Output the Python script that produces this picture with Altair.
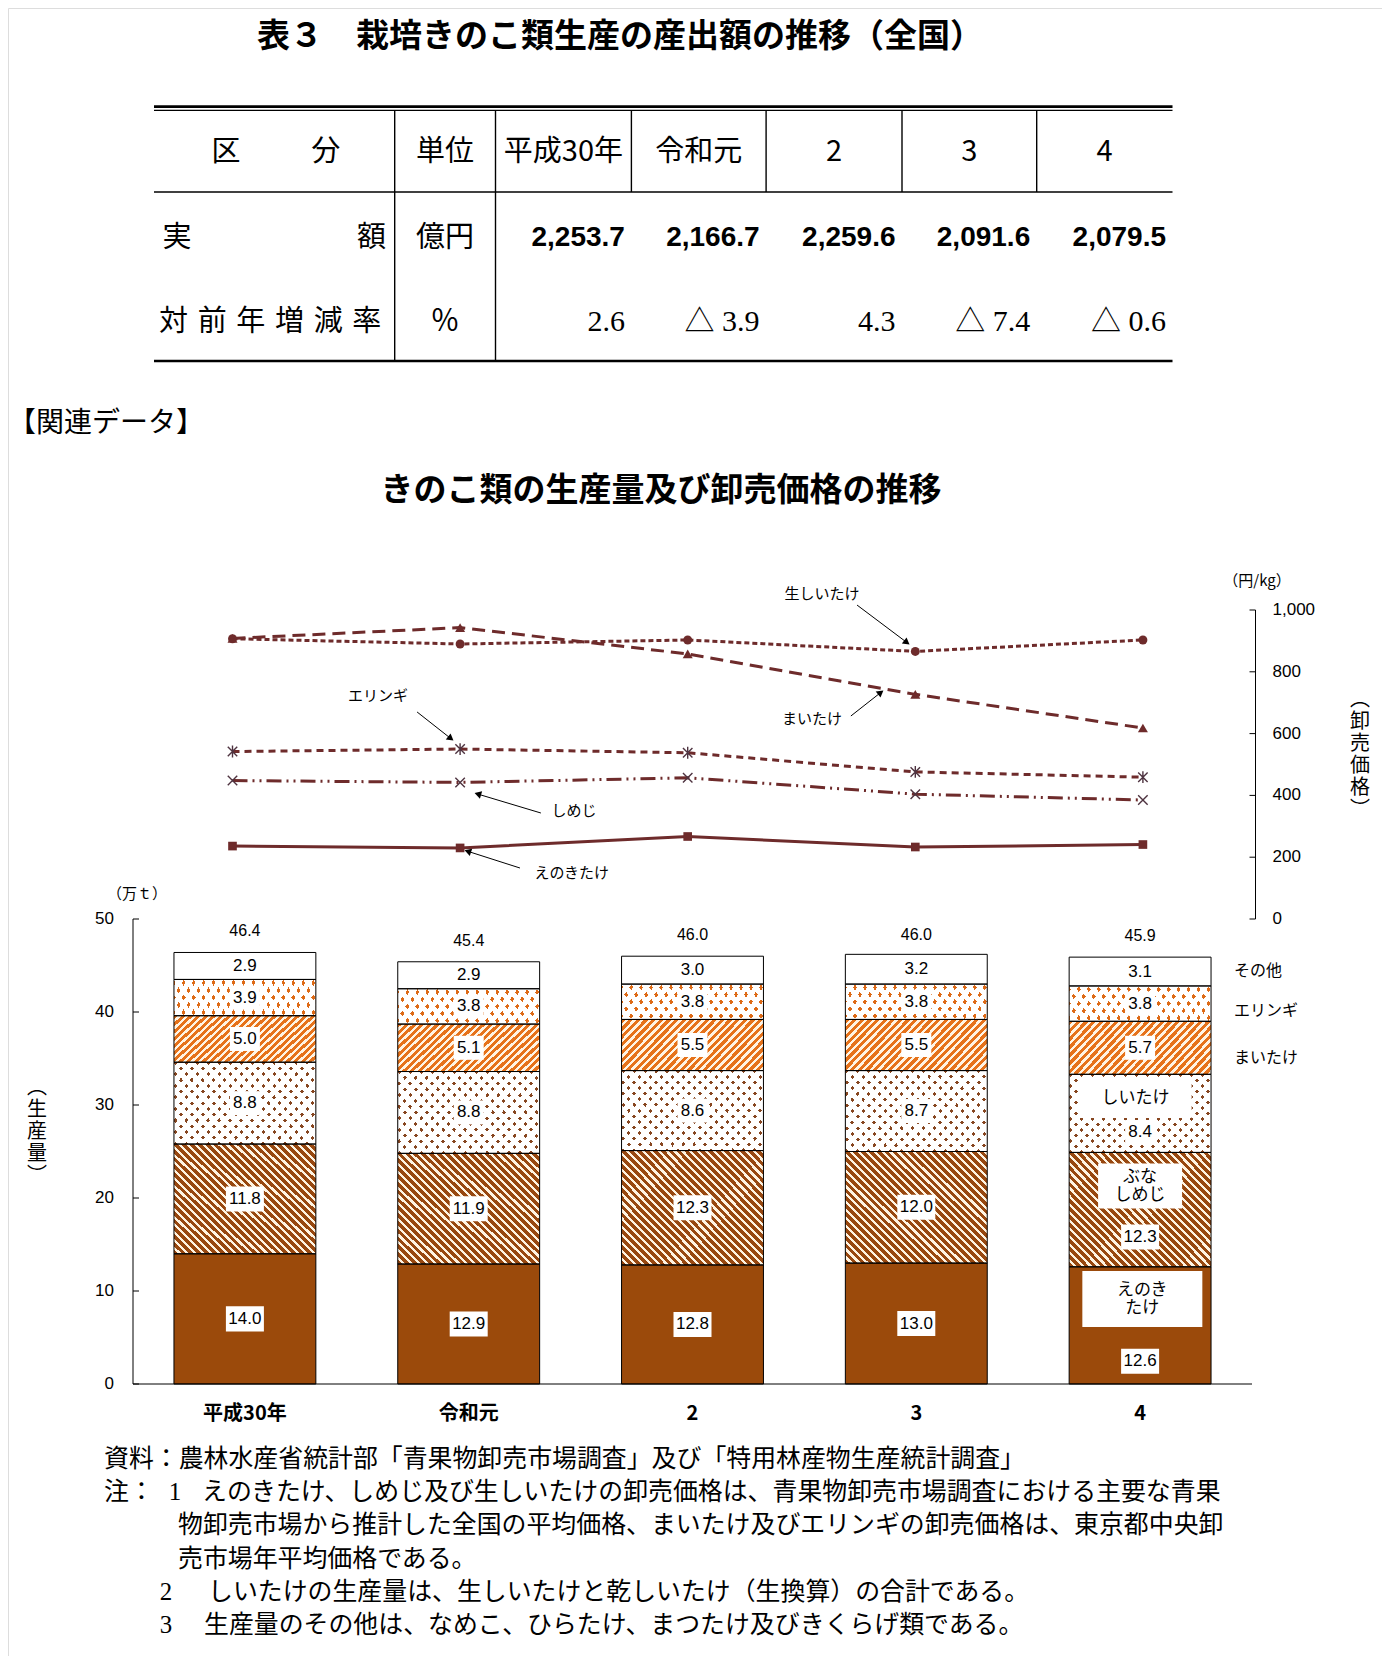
import math
import altair as alt
import pandas as pd

# ======================= data =======================
TABLE_TITLE = "表３　栽培きのこ類生産の産出額の推移（全国）"
TABLE_YEARS = ["平成30年", "令和元", "2", "3", "4"]
OUTPUT_VALUE = [2253.7, 2166.7, 2259.6, 2091.6, 2079.5]      # 億円
YOY_RATE = [2.6, -3.9, 4.3, -7.4, -0.6]                        # %

SECTION_LABEL = "【関連データ】"
CHART_TITLE = "きのこ類の生産量及び卸売価格の推移"
YEARS = ["平成30年", "令和元", "2", "3", "4"]

# production (万t), stacked bottom -> top
CATEGORIES = ["えのきたけ", "ぶなしめじ", "しいたけ", "まいたけ", "エリンギ", "その他"]
PROD_ENOKI = [14.0, 12.9, 12.8, 13.0, 12.6]
PROD_BUNASHIMEJI = [11.8, 11.9, 12.3, 12.0, 12.3]
PROD_SHIITAKE = [8.8, 8.8, 8.6, 8.7, 8.4]
PROD_MAITAKE = [5.0, 5.1, 5.5, 5.5, 5.7]
PROD_ERINGI = [3.9, 3.8, 3.8, 3.8, 3.8]
PROD_OTHER = [2.9, 2.9, 3.0, 3.2, 3.1]
PROD_TOTAL = [46.4, 45.4, 46.0, 46.0, 45.9]
PROD_TICKS = [0, 10, 20, 30, 40, 50]

# wholesale prices (円/kg)
PRICE_SERIES = ["生しいたけ", "まいたけ", "エリンギ", "しめじ", "えのきたけ"]
PRICE_NAMA_SHIITAKE = [907, 890, 903, 866, 903]
PRICE_MAITAKE = [908, 943, 858, 727, 618]
PRICE_ERINGI = [542, 550, 538, 476, 459]
PRICE_SHIMEJI = [448, 442, 457, 404, 385]
PRICE_ENOKI = [236, 230, 267, 233, 241]
PRICE_TICKS = [0, 200, 400, 600, 800, 1000]

SIDE_LABELS = ["その他", "エリンギ", "まいたけ"]
NAME_LABELS = ["しいたけ", "ぶな\nしめじ", "えのき\nたけ"]

NOTE_TEXTS = [
    "資料：農林水産省統計部「青果物卸売市場調査」及び「特用林産物生産統計調査」",
    "注：",
    "1",
    "えのきたけ、しめじ及び生しいたけの卸売価格は、青果物卸売市場調査における主要な青果",
    "物卸売市場から推計した全国の平均価格、まいたけ及びエリンギの卸売価格は、東京都中央卸",
    "売市場年平均価格である。",
    "2",
    "しいたけの生産量は、生しいたけと乾しいたけ（生換算）の合計である。",
    "3",
    "生産量のその他は、なめこ、ひらたけ、まつたけ及びきくらげ類である。",
]

# ======================= layout / style =======================
W, H = 1374, 1648
JP = "Noto Sans CJK JP"
LAT = "Liberation Sans"
SER = "Liberation Serif"

# page-coordinate scale (titles, table, notes)
PX = alt.Scale(domain=[8, 8 + W], range=[0, W], nice=False, zero=False)
PY = alt.Scale(domain=[8, 8 + H], range=[0, H], nice=False, zero=False)

# bar chart scales
XB_RANGE = [125, 1244]
YB_RANGE = [1376, 911]
XB = alt.Scale(domain=[-0.5, 4.5], range=XB_RANGE, nice=False, zero=False)
YB = alt.Scale(domain=[0, 50], range=YB_RANGE, nice=False, zero=False)
PX_PER_I_B = (XB_RANGE[1] - XB_RANGE[0]) / 5.0
PX_PER_UNIT_B = (YB_RANGE[0] - YB_RANGE[1]) / 50.0

# line chart scales
XL_RANGE = [224.5, 1134.9]
YL_RANGE = [911, 602]
XL = alt.Scale(domain=[0, 4], range=XL_RANGE, nice=False, zero=False)
YL = alt.Scale(domain=[0, 1000], range=YL_RANGE, nice=False, zero=False)
PX_PER_I_L = (XL_RANGE[1] - XL_RANGE[0]) / 4.0
PX_PER_YEN = (YL_RANGE[0] - YL_RANGE[1]) / 1000.0
RIGHT_AXIS_PLOT_X = 1247.5

LC = "#6E2B2B"
HALF = 0.317

# ---------- page layer ----------
COL_EDGES = [154, 394.7, 495.5, 631.4, 766.1, 902, 1036.7, 1172.5]
ROW_Y = [151.7, 237.7, 321.5]


def colmid(k):
    return (COL_EDGES[k] + COL_EDGES[k + 1]) / 2


items = []


def add(x, y, text, style):
    items.append(dict(x=x, y=y, text=text, style=style))


add(620, 37, TABLE_TITLE, "title")
add(226, ROW_Y[0], "区", "th")
add(325.7, ROW_Y[0], "分", "th")
add(colmid(1), ROW_Y[0], "単位", "th")
for k, yr in enumerate(TABLE_YEARS):
    add(colmid(k + 2), ROW_Y[0], yr, "th")
add(177, ROW_Y[1], "実", "th")
add(371.4, ROW_Y[1], "額", "th")
add(colmid(1), ROW_Y[1], "億円", "th")
for k, v in enumerate(OUTPUT_VALUE):
    add(COL_EDGES[k + 3] - 6.5, ROW_Y[1], f"{v:,.1f}", "val")
add(159, ROW_Y[2], "\u2004".join("対前年増減率"), "thl")
add(colmid(1), ROW_Y[2], "％", "th")
for k, r in enumerate(YOY_RATE):
    s = f"{r:.1f}" if r >= 0 else f"△ {abs(r):.1f}"
    add(COL_EDGES[k + 3] - 6.5, ROW_Y[2], s, "rate")

add(8, 424, SECTION_LABEL, "section")
add(661, 491, CHART_TITLE, "title")
add(1257, 581, "（円/kg）", "unit")
add(1360, 700, "︵\n卸\n売\n価\n格\n︶", "vert")
add(137, 894, "（万ｔ）", "unit")
add(37, 1088, "︵\n生\n産\n量\n︶", "vert")

NOTE_POS = [(104, 1460, "note"), (104, 1493, "note"), (175, 1493, "notenum"),
            (202, 1493, "note"), (178, 1526, "note"), (178, 1560, "note"),
            (166, 1593, "notenum"), (208, 1593, "note"), (166, 1626, "notenum"),
            (204, 1626, "note")]
for (nx_, ny_, st), txt in zip(NOTE_POS, NOTE_TEXTS):
    add(nx_, ny_, txt, st)

page_df = pd.DataFrame(items)

STYLES = {
    "title": dict(font=JP, fontSize=33, fontWeight="bold", align="center"),
    "section": dict(font=JP, fontSize=28, align="left"),
    "th": dict(font=JP, fontSize=29, align="center"),
    "thl": dict(font=JP, fontSize=29, align="left"),
    "val": dict(font=LAT, fontSize=28, fontWeight="bold", align="right"),
    "rate": dict(font=SER + ", " + JP, fontSize=30, align="right"),
    "unit": dict(font=JP, fontSize=15, align="center"),
    "vert": dict(font=JP, fontSize=20, align="center", lineBreak="\n", lineHeight=22),
    "note": dict(font=JP, fontSize=24.9, align="left"),
    "notenum": dict(font=SER, fontSize=24.9, align="center"),
}

page_layers = []
for st, kw in STYLES.items():
    page_layers.append(
        alt.Chart(page_df).transform_filter(alt.datum.style == st)
        .mark_text(baseline="middle", color="black", **kw)
        .encode(x=alt.X("x:Q", scale=PX, axis=None), y=alt.Y("y:Q", scale=PY, axis=None), text="text:N")
    )

TL, TR = COL_EDGES[0], COL_EDGES[-1]
tlines = [dict(x=TL, x2=TR, y=106.6, y2=106.6, w=2.6),
          dict(x=TL, x2=TR, y=110.4, y2=110.4, w=1.4),
          dict(x=TL, x2=TR, y=192, y2=192, w=1.5),
          dict(x=TL, x2=TR, y=361, y2=361, w=2.6)]
for xe in COL_EDGES[1:3]:
    tlines.append(dict(x=xe, x2=xe, y=110.4, y2=361, w=1.4))
for xe in COL_EDGES[3:7]:
    tlines.append(dict(x=xe, x2=xe, y=110.4, y2=192, w=1.4))
tlines_df = pd.DataFrame(tlines)
page_layers.insert(0, alt.Chart(tlines_df).mark_rule(color="black").encode(
    x=alt.X("x:Q", scale=PX, axis=None), x2="x2:Q",
    y=alt.Y("y:Q", scale=PY, axis=None), y2="y2:Q",
    strokeWidth=alt.StrokeWidth("w:Q", scale=None)))

page_layer = alt.layer(*page_layers)

# ---------- bar chart ----------
PROD_SERIES = [PROD_ENOKI, PROD_BUNASHIMEJI, PROD_SHIITAKE, PROD_MAITAKE, PROD_ERINGI, PROD_OTHER]
rows = []
for i in range(len(YEARS)):
    base = 0.0
    for cat, arr in zip(CATEGORIES, PROD_SERIES):
        v = arr[i]
        rows.append(dict(i=i, cat=cat, v=v, y0=round(base, 2), y1=round(base + v, 2)))
        base += v
prod = pd.DataFrame(rows)
prod["ly"] = (prod["y0"] + prod["y1"]) / 2
LAST_BAR_LABEL_SHIFT = {"えのきたけ": -3.85, "ぶなしめじ": -2.95, "しいたけ": -2.0}
for cat, sh in LAST_BAR_LABEL_SHIFT.items():
    m = (prod["i"] == 4) & (prod["cat"] == cat)
    prod.loc[m, "ly"] = prod.loc[m, "ly"] + sh


def stripe_fill(nx, ny, period, duty, c_on, c_off, w, h):
    nrm = math.hypot(nx, ny)
    nx, ny = nx / nrm, ny / nrm
    d0 = (nx * w, ny * h)
    corners = [(0.0, 0.0), (1.0, 0.0), (0.0, 1.0), (1.0, 1.0)]
    s = [u * d0[0] + v * d0[1] for u, v in corners]
    p1 = corners[s.index(min(s))]
    pm = corners[s.index(max(s))]
    du, dv = pm[0] - p1[0], pm[1] - p1[1]
    k = (du * d0[0] + dv * d0[1]) / (d0[0] ** 2 + d0[1] ** 2)
    x2, y2 = p1[0] + d0[0] * k, p1[1] + d0[1] * k
    L = abs(nx * w * du + ny * h * dv)
    n = L / period
    stops = []
    j = 0
    while j < n:
        a = j / n
        b = min((j + duty) / n, 1.0)
        c = min((j + 1) / n, 1.0)
        stops += [(a, c_on), (b, c_on), (b, c_off), (c, c_off)]
        j += 1
    return alt.LinearGradient(
        gradient="linear", x1=round(p1[0], 4), y1=round(p1[1], 4), x2=round(x2, 4), y2=round(y2, 4),
        stops=[alt.GradientStop(offset=round(o, 5), color=col) for o, col in stops])


BW = 2 * HALF * PX_PER_I_B
seg_h = {cat: sum(arr) / len(arr) * PX_PER_UNIT_B for cat, arr in zip(CATEGORIES, PROD_SERIES)}
CLEAR = "rgba(255,255,255,0)"
WHITE = "#FFFFFF"

FILLS = {
    "えのきたけ": ["#9B4A0B"],
    "ぶなしめじ": [stripe_fill(1, -1, 5.6, 0.6, "#984810", "#FFF4E2", BW, seg_h["ぶなしめじ"])],
    "しいたけ": ["#874620",
                 stripe_fill(5.7, -5.5, 7.9, 0.36, CLEAR, WHITE, BW, seg_h["しいたけ"]),
                 stripe_fill(5.7, 5.5, 7.9, 0.36, CLEAR, WHITE, BW, seg_h["しいたけ"])],
    "まいたけ": [stripe_fill(1, 1, 5.4, 0.56, "#E6721A", "#FFF4E4", BW, seg_h["まいたけ"])],
    "エリンギ": ["#DE6A16",
                 stripe_fill(7.2, -5, 8.2, 0.4, CLEAR, WHITE, BW, seg_h["エリンギ"]),
                 stripe_fill(7.2, 5, 8.2, 0.4, CLEAR, WHITE, BW, seg_h["エリンギ"])],
    "その他": [WHITE],
}


def seg_chart(cat=None):
    c = alt.Chart(prod)
    if cat is not None:
        c = c.transform_filter(alt.datum.cat == cat)
    return c.transform_calculate(xl=f"datum.i - {HALF}", xr=f"datum.i + {HALF}")


bar_layers = []
for cat in CATEGORIES:
    for f in FILLS[cat]:
        bar_layers.append(seg_chart(cat).mark_rect(fill=f).encode(
            x=alt.X("xl:Q", scale=XB, axis=None), x2="xr:Q",
            y=alt.Y("y0:Q", scale=YB, axis=None), y2="y1:Q"))

# segment outlines
bar_layers.append(seg_chart().mark_rect(fill="white", fillOpacity=0, stroke="black", strokeWidth=1).encode(
    x=alt.X("xl:Q", scale=XB, axis=None), x2="xr:Q",
    y=alt.Y("y0:Q", scale=YB, axis=None), y2="y1:Q"))

# axis lines (left: production, bottom: years)
axis_b = pd.DataFrame({"xa": [-0.5, -0.5], "xb": [-0.5, 4.5], "ya": [0, 0], "yb": [50, 0]})
bar_layers.append(alt.Chart(axis_b).mark_rule(color="black", strokeWidth=1).encode(
    x=alt.X("xa:Q", scale=XB, axis=None), x2="xb:Q",
    y=alt.Y("ya:Q", scale=YB, axis=None), y2="yb:Q"))

# inward ticks + labels of left axis
ptick_df = pd.DataFrame({"t": PROD_TICKS})
bar_layers.append(alt.Chart(ptick_df).transform_calculate(
    xa="-0.5", xb=f"-0.5 + {6 / PX_PER_I_B}").mark_rule(color="black", strokeWidth=1).encode(
    x=alt.X("xa:Q", scale=XB, axis=None), x2="xb:Q", y=alt.Y("t:Q", scale=YB, axis=None)))
bar_layers.append(alt.Chart(ptick_df).transform_calculate(xa="-0.5").mark_text(
    font=LAT, fontSize=17, color="black", align="right", baseline="middle", dx=-19).encode(
    x=alt.X("xa:Q", scale=XB, axis=None), y=alt.Y("t:Q", scale=YB, axis=None),
    text=alt.Text("t:Q", format="d")))

# year labels of bottom axis
year_df = pd.DataFrame({"i": list(range(len(YEARS))), "year": YEARS})
bar_layers.append(alt.Chart(year_df).transform_calculate(yz="0").mark_text(
    font=JP, fontSize=20, fontWeight="bold", color="black", baseline="middle", dy=30).encode(
    x=alt.X("i:Q", scale=XB, axis=None), y=alt.Y("yz:Q", scale=YB, axis=None), text="year:N"))

# white label boxes + value labels
WIDE_BOX = "M-1,-0.66L1,-0.66L1,0.66L-1,0.66Z"
NARROW_BOX = "M-1,-0.8L1,-0.8L1,0.8L-1,0.8Z"
bar_layers.append(alt.Chart(prod).transform_filter("datum.v >= 10").mark_point(
    shape=WIDE_BOX, size=38 * 38, filled=True, fill="white", opacity=1, strokeWidth=0).encode(
    x=alt.X("i:Q", scale=XB, axis=None), y=alt.Y("ly:Q", scale=YB, axis=None)))
bar_layers.append(alt.Chart(prod).transform_filter("datum.v < 10").mark_point(
    shape=NARROW_BOX, size=30 * 30, filled=True, fill="white", opacity=1, strokeWidth=0).encode(
    x=alt.X("i:Q", scale=XB, axis=None), y=alt.Y("ly:Q", scale=YB, axis=None)))
bar_layers.append(alt.Chart(prod).mark_text(font=LAT, fontSize=17, color="black", baseline="middle").encode(
    x=alt.X("i:Q", scale=XB, axis=None), y=alt.Y("ly:Q", scale=YB, axis=None),
    text=alt.Text("v:Q", format=".1f")))

# totals
tot_df = pd.DataFrame({"i": list(range(len(YEARS))), "total": PROD_TOTAL})
bar_layers.append(alt.Chart(tot_df).mark_text(font=LAT, fontSize=16, color="black", baseline="middle", dy=-21).encode(
    x=alt.X("i:Q", scale=XB, axis=None), y=alt.Y("total:Q", scale=YB, axis=None),
    text=alt.Text("total:Q", format=".1f")))

# category names on the right side
SIDE_POS_Y = [44.4, 40.1, 35.05]
side_df = pd.DataFrame({"name": SIDE_LABELS, "y": SIDE_POS_Y, "x": [4.42] * 3})
bar_layers.append(alt.Chart(side_df).mark_text(font=JP, fontSize=16, color="black", align="left", baseline="middle").encode(
    x=alt.X("x:Q", scale=XB, axis=None), y=alt.Y("y:Q", scale=YB, axis=None), text="name:N"))

# name boxes inside the last bar
NAME_POS = [(3.98, 30.75), (4.0, 21.3), (4.01, 9.14)]
NAME_BOX = [(112, 40), (84, 45), (120, 56)]
NAME_LH = 18
for nm, (nxp, nyp), (bw, bh) in zip(NAME_LABELS, NAME_POS, NAME_BOX):
    ndf = pd.DataFrame({"name": [nm], "x": [nxp], "y": [nyp]})
    r = bh / bw
    path = f"M-1,-{r:.3f}L1,-{r:.3f}L1,{r:.3f}L-1,{r:.3f}Z"
    nlines = nm.count("\n") + 1
    bar_layers.append(alt.Chart(ndf).mark_point(shape=path, size=bw * bw, filled=True, fill="white",
                                                opacity=1, strokeWidth=0).encode(
        x=alt.X("x:Q", scale=XB, axis=None), y=alt.Y("y:Q", scale=YB, axis=None)))
    bar_layers.append(alt.Chart(ndf).mark_text(font=JP, fontSize=17, color="black", baseline="middle",
                                               lineBreak="\n", lineHeight=NAME_LH,
                                               dy=-(nlines - 1) * NAME_LH / 2).encode(
        x=alt.X("x:Q", scale=XB, axis=None), y=alt.Y("y:Q", scale=YB, axis=None), text="name:N"))

bar_layer = alt.layer(*bar_layers)

# ---------- line chart ----------
PRICE_VALUES = [PRICE_NAMA_SHIITAKE, PRICE_MAITAKE, PRICE_ERINGI, PRICE_SHIMEJI, PRICE_ENOKI]
prow = []
for s, arr in zip(PRICE_SERIES, PRICE_VALUES):
    for i, v in enumerate(arr):
        prow.append(dict(series=s, i=i, price=v))
price = pd.DataFrame(prow)

ASTERISK = "M0,-1L0,1M-0.8,-0.8L0.8,0.8M-0.8,0.8L0.8,-0.8"
XMARK = "M-1,-1L1,1M-1,1L1,-1"
LINE_STYLE = {
    "生しいたけ": dict(dash=[5, 3], shape="circle", size=80, filled=True),
    "まいたけ": dict(dash=[13, 7], shape="triangle-up", size=100, filled=True),
    "エリンギ": dict(dash=[7, 5], shape=ASTERISK, size=140, filled=False),
    "しめじ": dict(dash=[15, 5, 2, 5, 2, 5], shape=XMARK, size=90, filled=False),
    "えのきたけ": dict(dash=None, shape="square", size=75, filled=True),
}

line_layers = []
for s in PRICE_SERIES:
    st = LINE_STYLE[s]
    kw = dict(stroke=LC, strokeWidth=3)
    if st["dash"]:
        kw["strokeDash"] = st["dash"]
    line_layers.append(alt.Chart(price).transform_filter(alt.datum.series == s).mark_line(**kw).encode(
        x=alt.X("i:Q", scale=XL, axis=None), y=alt.Y("price:Q", scale=YL, axis=None)))
for s in PRICE_SERIES:
    st = LINE_STYLE[s]
    if st["filled"]:
        kw = dict(shape=st["shape"], size=st["size"], filled=True, fill=LC, opacity=1, strokeWidth=0)
    else:
        kw = dict(shape=st["shape"], size=st["size"], filled=False, stroke="#4E3340", strokeWidth=1.4, opacity=1)
    line_layers.append(alt.Chart(price).transform_filter(alt.datum.series == s).mark_point(**kw).encode(
        x=alt.X("i:Q", scale=XL, axis=None), y=alt.Y("price:Q", scale=YL, axis=None)))

# right price axis: line, inward ticks, labels
ia = (RIGHT_AXIS_PLOT_X - XL_RANGE[0]) / PX_PER_I_L
axis_r = pd.DataFrame({"xa": [ia], "ya": [0], "yb": [1000]})
line_layers.append(alt.Chart(axis_r).mark_rule(color="black", strokeWidth=1).encode(
    x=alt.X("xa:Q", scale=XL, axis=None), y=alt.Y("ya:Q", scale=YL, axis=None), y2="yb:Q"))
yt_df = pd.DataFrame({"t": PRICE_TICKS})
line_layers.append(alt.Chart(yt_df).transform_calculate(
    xa=f"{ia - 6 / PX_PER_I_L}", xb=f"{ia}").mark_rule(color="black", strokeWidth=1).encode(
    x=alt.X("xa:Q", scale=XL, axis=None), x2="xb:Q", y=alt.Y("t:Q", scale=YL, axis=None)))
line_layers.append(alt.Chart(yt_df).transform_calculate(xb=f"{ia}").mark_text(
    font=LAT, fontSize=17, color="black", align="left", baseline="middle", dx=17).encode(
    x=alt.X("xb:Q", scale=XL, axis=None), y=alt.Y("t:Q", scale=YL, axis=None),
    text=alt.Text("t:Q", format=",")))

# series annotations (label position, arrow start, arrow tip) in data units
ANNOT = [
    ("生しいたけ", 2.590, 1052, 2.744, 1016, 2.977, 887),
    ("まいたけ", 2.546, 647, 2.717, 657, 2.862, 741),
    ("エリンギ", 0.639, 722, 0.811, 670, 0.973, 576),
    ("しめじ", 1.500, 350, 1.355, 343, 1.061, 408),
    ("えのきたけ", 1.491, 149, 1.263, 165, 1.017, 223),
]
arows = []
for name, tx, ty, x1, y1, x2, y2 in ANNOT:
    dxp = (x2 - x1) * PX_PER_I_L
    dyp = -(y2 - y1) * PX_PER_YEN
    L = math.hypot(dxp, dyp)
    ux, uy = dxp / L, dyp / L
    ang = math.degrees(math.atan2(ux, -uy)) % 360
    hx = x2 - 4 * ux / PX_PER_I_L
    hy = y2 + 4 * uy / PX_PER_YEN
    arows.append(dict(name=name, tx=tx, ty=ty, x1=x1, y1=y1, hx=hx, hy=hy, ang=ang))
ann = pd.DataFrame(arows)
line_layers.append(alt.Chart(ann).mark_rule(color="black", strokeWidth=1).encode(
    x=alt.X("x1:Q", scale=XL, axis=None), x2="hx:Q", y=alt.Y("y1:Q", scale=YL, axis=None), y2="hy:Q"))
line_layers.append(alt.Chart(ann).mark_point(shape="triangle-up", size=60, filled=True, fill="black",
                                             opacity=1, strokeWidth=0).encode(
    x=alt.X("hx:Q", scale=XL, axis=None), y=alt.Y("hy:Q", scale=YL, axis=None),
    angle=alt.Angle("ang:Q", scale=None)))
line_layers.append(alt.Chart(ann).mark_text(font=JP, fontSize=15, color="black", baseline="middle").encode(
    x=alt.X("tx:Q", scale=XL, axis=None), y=alt.Y("ty:Q", scale=YL, axis=None), text="name:N"))

line_layer = alt.layer(*line_layers)

chart = (
    alt.layer(page_layer, bar_layer, line_layer)
    .resolve_scale(x="independent", y="independent")
    .properties(width=W, height=H, padding=0, autosize=alt.AutoSizeParams(type="none"))
    .configure_view(stroke=None)
    .configure(font=JP, background="white")
)

chart.save("out.html", embed_options={"renderer": "svg", "actions": False})
